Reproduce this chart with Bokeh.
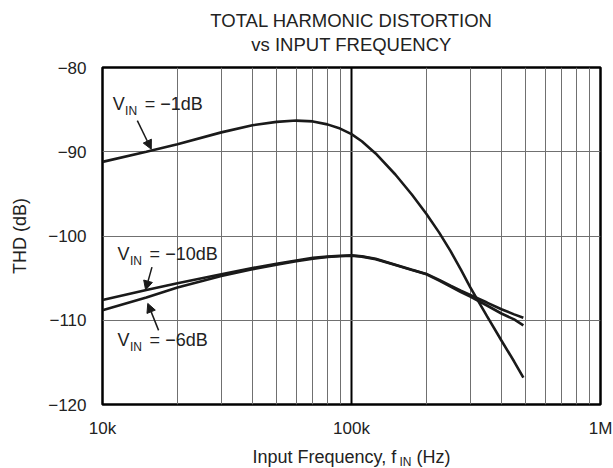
from bokeh.plotting import figure
from bokeh.layouts import column
from bokeh.models import (FixedTicker, CustomJSTickFormatter, Label, Arrow,
                          NormalHead, Range1d)
from bokeh.embed import file_html
from bokeh.resources import INLINE

# ---- data ----
freq_khz = [10, 15, 20, 30, 40, 50, 60, 70, 80, 90, 100, 110, 125, 150,
            175, 200, 225, 250, 275, 300, 350, 400, 450, 490]
thd_vin_m1db = [-91.2, -90.0, -89.1, -87.7, -86.85, -86.45, -86.3, -86.4,
                -86.75, -87.25, -87.9, -88.75, -90.2, -92.7, -95.1, -97.4,
                -99.6, -101.8, -104.0, -106.1, -109.5, -112.4, -114.9, -116.8]
thd_vin_m10db = [-107.6, -106.4, -105.6, -104.55, -103.8, -103.3, -102.9,
                 -102.6, -102.45, -102.35, -102.3, -102.4, -102.7, -103.4,
                 -104.0, -104.5, -105.2, -105.9, -106.5, -107.0, -107.9,
                 -108.7, -109.3, -109.7]
thd_vin_m6db = [-108.8, -107.3, -106.1, -104.75, -103.95, -103.4, -103.0,
                -102.7, -102.5, -102.4, -102.35, -102.45, -102.75, -103.45,
                -104.05, -104.55, -105.3, -106.0, -106.65, -107.2, -108.25,
                -109.2, -109.9, -110.6]
x_ticks = [1e4, 1e5, 1e6]
x_minor = [2e4, 3e4, 4e4, 5e4, 6e4, 7e4, 8e4, 9e4,
           2e5, 3e5, 4e5, 5e5, 6e5, 7e5, 8e5, 9e5]
y_ticks = [-120, -110, -100, -90, -80]

FONT = "Liberation Sans"
TXT = "#222222"
CURVE = "#1a1a1a"
W = 613
X_RANGE = (1e4, 1e6)
Y_RANGE = (-120, -80)

freq_hz = [f * 1000 for f in freq_khz]

# ---------- main plot ----------
p = figure(width=W, height=384, x_axis_type="log", title=None,
           x_range=Range1d(*X_RANGE), y_range=Range1d(*Y_RANGE),
           output_backend="svg", toolbar_location=None,
           min_border_left=102, min_border_right=13,
           min_border_top=11, min_border_bottom=36)
p.background_fill_color = "white"
p.border_fill_color = "white"
p.outline_line_color = "black"
p.outline_line_width = 2.5

p.xaxis.ticker = FixedTicker(ticks=x_ticks, minor_ticks=x_minor)
p.xaxis.formatter = CustomJSTickFormatter(
    code="return tick >= 1e6 ? (tick/1e6) + 'M' : (tick/1e3) + 'k';")
p.yaxis.ticker = FixedTicker(ticks=y_ticks)
p.yaxis.formatter = CustomJSTickFormatter(
    code="return tick < 0 ? '\\u2212' + Math.abs(tick) : '' + tick;")
for ax in (p.xaxis, p.yaxis):
    ax.axis_line_color = None
    ax.major_tick_line_color = None
    ax.minor_tick_line_color = None
    ax.major_tick_out = 0
    ax.major_tick_in = 0
    ax.minor_tick_out = 0
    ax.minor_tick_in = 0
    ax.major_label_text_font = FONT
    ax.major_label_text_font_size = "17px"
    ax.major_label_text_color = TXT
p.xaxis.major_label_standoff = 14
p.yaxis.major_label_standoff = 16
p.yaxis.axis_label = "THD (dB)"
p.yaxis.axis_label_text_font = FONT
p.yaxis.axis_label_text_font_size = "18px"
p.yaxis.axis_label_text_font_style = "normal"
p.yaxis.axis_label_text_color = TXT
p.yaxis.axis_label_standoff = 15

p.xgrid.grid_line_color = "black"
p.xgrid.grid_line_width = 2
p.xgrid.minor_grid_line_color = "#707070"
p.xgrid.minor_grid_line_width = 1
p.ygrid.grid_line_color = "#707070"
p.ygrid.grid_line_width = 1

for ys in (thd_vin_m1db, thd_vin_m10db, thd_vin_m6db):
    p.line(freq_hz, ys, line_color=CURVE, line_width=2.6)


def add_text(fig, x, y, text, size=18, dx=0, dy=0, align="left"):
    # Label baselines render ~1/3 em low; lift them back up
    fig.add_layout(Label(x=x, y=y, text=text, x_offset=dx,
                         y_offset=dy + round(size / 3),
                         text_font=FONT, text_font_size=f"{size}px",
                         text_color=TXT, text_align=align,
                         text_baseline="alphabetic"))


def vin_label(x, y, rest):
    add_text(p, x, y, "V")
    add_text(p, x, y, "IN", size=12, dx=12.3, dy=-5)
    add_text(p, x, y, rest, dx=32)


vin_label(11000, -85.1, "= \u22121dB")
vin_label(11500, -102.9, "= \u221210dB")
vin_label(11500, -113.0, "= \u22126dB")

head = dict(size=9, fill_color=CURVE, line_color=CURVE)
p.add_layout(Arrow(end=NormalHead(**head), x_start=13800, y_start=-86.3,
                   x_end=15700, y_end=-89.7, line_color=CURVE, line_width=1.5))
p.add_layout(Arrow(end=NormalHead(**head), x_start=15800, y_start=-103.7,
                   x_end=14900, y_end=-106.4, line_color=CURVE, line_width=1.5))
p.add_layout(Arrow(end=NormalHead(**head), x_start=16800, y_start=-111.2,
                   x_end=15200, y_end=-108.0, line_color=CURVE, line_width=1.5))


# ---------- text strips (title above, x-axis label below) ----------
def text_strip(height):
    f = figure(width=W, height=height, x_axis_type="log", title=None,
               x_range=Range1d(*X_RANGE), y_range=Range1d(0, height),
               x_axis_location=None, y_axis_location=None,
               output_backend="svg", toolbar_location=None,
               min_border_left=102, min_border_right=13,
               min_border_top=0, min_border_bottom=0)
    f.outline_line_color = None
    f.grid.visible = False
    f.background_fill_color = "white"
    f.border_fill_color = "white"
    return f


title_fig = text_strip(56)
add_text(title_fig, 1e5, 30, "TOTAL HARMONIC DISTORTION", size=18.5,
         align="center")
add_text(title_fig, 1e5, 6, "vs INPUT FREQUENCY", size=18.5, align="center")

xlab_fig = text_strip(28)
add_text(xlab_fig, 40000, 6, "Input Frequency, f")
add_text(xlab_fig, 40000, 6, "IN", size=12, dx=147, dy=-3)
add_text(xlab_fig, 40000, 6, "(Hz)", dx=164)

layout = column(title_fig, p, xlab_fig, spacing=0)

open("out.html", "w", encoding="utf-8").write(file_html(layout, INLINE))
